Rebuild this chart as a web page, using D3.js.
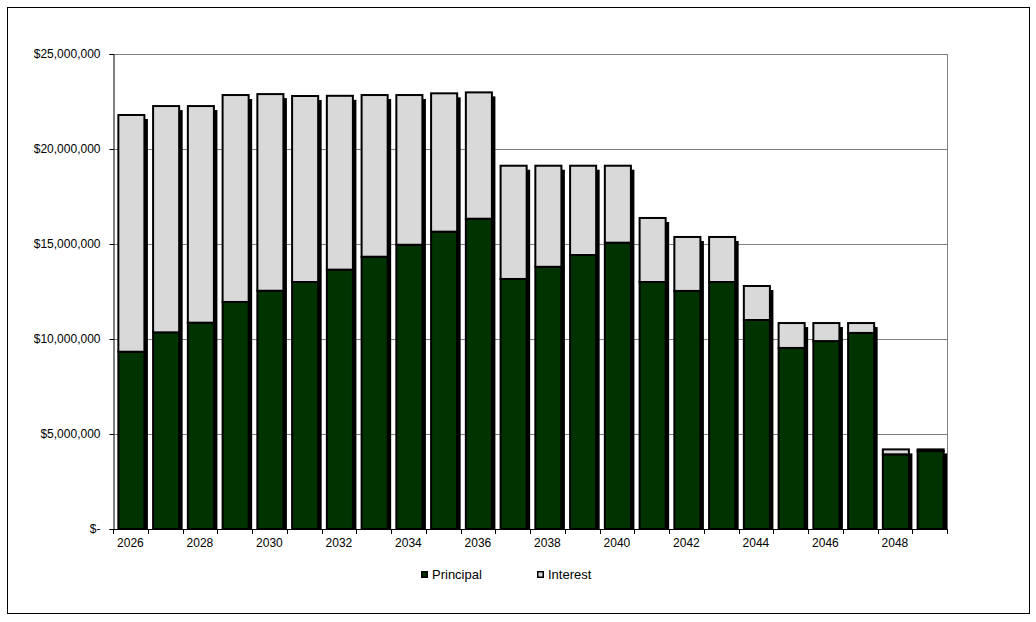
<!DOCTYPE html>
<html>
<head>
<meta charset="utf-8">
<script src="https://cdn.jsdelivr.net/npm/d3@7"></script>
<style>
  html, body { margin: 0; padding: 0; background: #ffffff; }
  svg { display: block; font-family: "Liberation Sans", Arial, sans-serif; }
</style>
</head>
<body>
<svg id="chart" width="1036" height="622"></svg>
<script>
const years = [2026, 2027, 2028, 2029, 2030, 2031, 2032, 2033, 2034, 2035, 2036, 2037,
               2038, 2039, 2040, 2041, 2042, 2043, 2044, 2045, 2046, 2047, 2048, 2049];
const principal = [9.33, 10.35, 10.86, 11.95, 12.54, 13.0, 13.65, 14.33, 14.96, 15.65, 16.33, 13.16,
                   13.8, 14.42, 15.07, 13.0, 12.53, 13.0, 11.0, 9.53, 9.89, 10.32, 3.93, 4.1].map(v => v * 1e6);
const interest = [12.46, 11.91, 11.40, 10.89, 10.35, 9.79, 9.15, 8.51, 7.88, 7.28, 6.65, 5.96,
                  5.32, 4.70, 4.05, 3.37, 2.84, 2.37, 1.79, 1.31, 0.95, 0.52, 0.26, 0.09].map(v => v * 1e6);
const yTicks = [0, 5e6, 10e6, 15e6, 20e6, 25e6];
const seriesNames = ["Principal", "Interest"];
const seriesColors = ["#003300", "#d9d9d9"];

(function () {
const rows = years.map((yr, i) => ({ year: yr, Principal: principal[i], Interest: interest[i] }));

const svg = d3.select("#chart");
const pLeft = 113, pRight = 947, pTop = 54, pBottom = 529;

// outer frame
svg.append("rect").attr("x", 7.5).attr("y", 7.5).attr("width", 1022).attr("height", 606)
  .attr("fill", "none").attr("stroke", "#000").attr("stroke-width", 1);

const x = d3.scaleBand().domain(years).range([pLeft, pRight]).paddingInner(0.25).paddingOuter(0.125);
const y = d3.scaleLinear().domain([0, 25e6]).range([pBottom, pTop]);

// gridlines
svg.append("g").selectAll("line").data(yTicks.filter(t => t > 0)).join("line")
  .attr("x1", pLeft).attr("x2", pRight)
  .attr("y1", d => Math.round(y(d)) + 0.5).attr("y2", d => Math.round(y(d)) + 0.5)
  .attr("stroke", "#808080").attr("stroke-width", 1);
// right border of plot
svg.append("line").attr("x1", pRight + 0.5).attr("x2", pRight + 0.5).attr("y1", pTop).attr("y2", pBottom)
  .attr("stroke", "#808080").attr("stroke-width", 1);

const stack = d3.stack().keys(seriesNames)(rows);

// shadows
const off = 4;
svg.append("g").selectAll("rect").data(rows).join("rect")
  .attr("x", d => x(d.year) + 1 + off)
  .attr("y", d => y(d.Principal + d.Interest) + off)
  .attr("width", x.bandwidth() - 0.5)
  .attr("height", d => Math.max(0, pBottom - (y(d.Principal + d.Interest) + off)))
  .attr("fill", "#000");

// bars
stack.forEach((s, si) => {
  svg.append("g").selectAll("rect").data(s).join("rect")
    .attr("x", d => x(d.data.year) + 1)
    .attr("y", d => y(d[1]))
    .attr("width", x.bandwidth())
    .attr("height", d => y(d[0]) - y(d[1]))
    .attr("fill", seriesColors[si])
    .attr("stroke", "#000").attr("stroke-width", 2);
});

// y axis
const yAxis = d3.axisLeft(y).tickValues(yTicks).tickSize(4).tickPadding(9)
  .tickFormat(d => d === 0 ? "$-" : "$" + d3.format(",")(d));
const gy = svg.append("g").attr("transform", `translate(${pLeft + 0.5},0)`).call(yAxis);
gy.select(".domain").attr("stroke", "#000");
gy.selectAll(".tick line").attr("stroke", "#000");
gy.selectAll("text").attr("font-size", 12).attr("fill", "#000")
  .attr("font-family", "Liberation Sans, Arial, sans-serif");

// x axis
const xAxis = d3.axisBottom(x).tickSize(0).tickPadding(9)
  .tickFormat((d, i) => i % 2 === 0 ? String(d) : "");
const gx = svg.append("g").attr("transform", `translate(0,${pBottom + 0.5})`).call(xAxis);
gx.select(".domain").attr("stroke", "#000").attr("d", `M${pLeft},0H${pRight + 1}`);
gx.selectAll("text").attr("font-size", 12).attr("fill", "#000")
  .attr("font-family", "Liberation Sans, Arial, sans-serif");
// category boundary ticks
const bounds = d3.range(years.length + 1).map(i => pLeft + i * x.step());
svg.append("g").selectAll("line").data(bounds).join("line")
  .attr("x1", d => Math.round(d) + 0.5).attr("x2", d => Math.round(d) + 0.5)
  .attr("y1", pBottom).attr("y2", pBottom + 5)
  .attr("stroke", "#000").attr("stroke-width", 1);

// legend
const legendX = [421, 537];
const lg = svg.append("g");
seriesNames.forEach((name, i) => {
  lg.append("rect").attr("x", legendX[i] + 0.75).attr("y", 571.75).attr("width", 5.5).attr("height", 5.5)
    .attr("fill", seriesColors[i]).attr("stroke", "#000").attr("stroke-width", 1.5);
  lg.append("text").attr("x", legendX[i] + 11).attr("y", 578.5).attr("font-size", 13)
    .attr("fill", "#000").text(name);
});
})();
</script>
</body>
</html>
